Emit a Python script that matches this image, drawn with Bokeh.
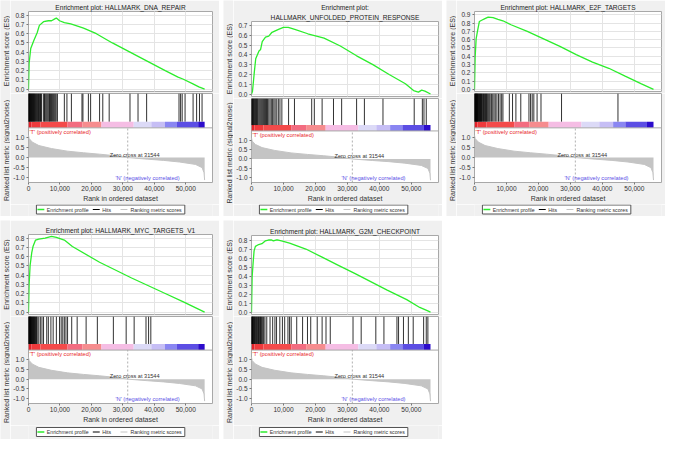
from math import pi
from bokeh.plotting import figure
from bokeh.layouts import column, row
from bokeh.core.properties import value
from bokeh.models import (Range1d, SingleIntervalTicker, FixedTicker, NumeralTickFormatter,
                          Grid, Label, Span, Title)
from bokeh.embed import file_html
from bokeh.resources import INLINE

FONT = "Liberation Sans"

# ---------------- data ----------------
N_GENES = 56000
X_END = 58500
ZERO_CROSS = 31544

METRIC_RANK = [0, 200, 1200, 3300, 7300, 12400, 17500, 22600, 27700, 31544, 37900, 43000,
               48000, 53100, 55200, 55800, 56000]
METRIC_VAL = [1.12, 0.95, 0.77, 0.6, 0.45, 0.32, 0.24, 0.17, 0.09, 0.0, -0.08, -0.14,
              -0.22, -0.34, -0.5, -0.75, -1.12]
METRIC_TICKS = [-1.0, -0.5, 0.0, 0.5, 1.0]

CB_EDGES = [0, 900, 3770, 12420, 17100, 23200, 33450, 39050, 43370, 47200, 53950, 56000]
CB_COLORS = ["#e2222a", "#ef3a3c", "#f44a4a", "#f36c80", "#f68c8e", "#f5bde4",
             "#dcdaf7", "#c6bef5", "#8a86f2", "#5c4ee4", "#2c0ccc"]

TITLES = [
    ["Enrichment plot: HALLMARK_DNA_REPAIR"],
    ["Enrichment plot:", "HALLMARK_UNFOLDED_PROTEIN_RESPONSE"],
    ["Enrichment plot: HALLMARK_E2F_TARGETS"],
    ["Enrichment plot: HALLMARK_MYC_TARGETS_V1"],
    ["Enrichment plot: HALLMARK_G2M_CHECKPOINT"],
]
ES_LABEL = "Enrichment score (ES)"
METRIC_LABEL = "Ranked list metric (signal2noise)"
X_LABEL = "Rank in ordered dataset"
LEGEND_LABELS = ["Enrichment profile", "Hits", "Ranking metric scores"]

ES_X_1 = [0, 200, 710, 1730, 2750, 3460, 4780, 6310, 7330, 8350, 8860, 9870, 11400, 13440,
          17510, 21580, 26670, 32270, 37870, 43470, 47540, 49070, 52120, 54160, 56000]
ES_Y_1 = [0, 0.28, 0.44, 0.53, 0.61, 0.69, 0.73, 0.74, 0.74, 0.76, 0.77, 0.74, 0.72, 0.705,
          0.66, 0.60, 0.50, 0.40, 0.30, 0.20, 0.13, 0.11, 0.06, 0.025, 0.0]
HITS_1 = [0, 100, 200, 300, 400, 500, 650, 800, 950, 1100, 1250, 1400, 1550, 1700, 1850, 2000,
          2200, 2400, 2600, 2800, 3000, 3200, 3400, 3600, 3800, 4000, 4200, 4800, 5100, 5300,
          5600, 5900, 6200, 6500, 6700, 7000, 7300, 7600, 7900, 8200, 8500, 8800, 9200,
          11400, 12220, 13640, 17000, 17310, 19040, 19750, 22600, 23620, 25650, 32270, 34820,
          37560, 47850, 48360, 48860, 49780, 52330, 53450, 54360, 55180]

ES_X_2 = [0, 300, 810, 1320, 2340, 2850, 3360, 4380, 5400, 6410, 7430, 8450, 9980, 11500,
          13540, 17610, 22700, 27790, 32880, 37970, 43060, 48150, 50700, 52220, 53240, 54260, 56000]
ES_Y_2 = [0, 0.025, 0.2, 0.36, 0.44, 0.455, 0.535, 0.58, 0.59, 0.63, 0.645, 0.66, 0.68, 0.68,
          0.66, 0.615, 0.57, 0.49, 0.39, 0.30, 0.20, 0.105, 0.035, 0.02, 0.04, 0.03, 0.0]
HITS_2 = [0, 150, 300, 450, 600, 800, 1000, 1200, 1400, 1600, 1800, 2000, 2300, 2600, 2900,
          3200, 3500, 3800, 4100, 4400, 4700, 5000, 5400, 5800, 6200, 6600, 7000, 7400, 7900,
          8400, 8900, 9500, 11600, 13440, 18830, 19650, 22090, 25650, 28200, 32880, 35320,
          41130, 50900, 53450, 53950, 54670]

ES_X_3 = [0, 200, 510, 920, 1530, 2240, 3260, 4280, 5810, 7340, 8870, 11420, 16520, 21620,
          26720, 31820, 36920, 42020, 47120, 52220, 56000]
ES_Y_3 = [0, 0.386, 0.61, 0.70, 0.82, 0.835, 0.855, 0.873, 0.865, 0.846, 0.828, 0.78, 0.70,
          0.61, 0.52, 0.42, 0.33, 0.255, 0.16, 0.067, 0.0]
HITS_3 = [0, 100, 200, 300, 400, 500, 600, 700, 800, 900, 1000, 1150, 1300, 1450, 1600, 1750,
          1900, 2050, 2200, 2400, 2600, 2800, 3000, 3200, 3400, 3600, 3800, 4000, 4300, 4600,
          4900, 5300, 5700, 6100, 6500, 7000, 7500, 8000, 8500, 8900, 10900, 11900, 12950,
          14480, 17030, 17540, 18050, 18560, 19580, 20800, 27230, 44880]

ES_X_4 = [0, 200, 510, 1020, 1430, 2240, 3260, 5290, 7330, 8860, 11400, 13950, 22600, 32780,
          42960, 49070, 56000]
ES_Y_4 = [0, 0.30, 0.505, 0.64, 0.71, 0.78, 0.79, 0.80, 0.82, 0.81, 0.78, 0.71, 0.54, 0.37,
          0.21, 0.115, 0.0]
HITS_4 = [0, 100, 200, 300, 400, 500, 600, 700, 800, 950, 1100, 1250, 1400, 1550, 1700, 1850,
          2000, 2200, 2400, 2600, 2750, 3260, 3770, 4280, 4780, 5800, 6310, 7120, 7840, 8860,
          9870, 10390, 10900, 11400, 11910, 12420, 13740, 15470, 18320, 21890, 26980, 31050,
          33590, 37360, 38180, 38890]

ES_X_5 = [0, 200, 510, 810, 1220, 2240, 3260, 4280, 5290, 6310, 6820, 7640, 8350, 9370, 11910,
          17000, 22090, 27180, 32270, 42450, 48560, 52630, 55690, 56000]
ES_Y_5 = [0, 0.39, 0.55, 0.68, 0.73, 0.75, 0.76, 0.79, 0.80, 0.80, 0.79, 0.80, 0.80, 0.79,
          0.765, 0.70, 0.61, 0.52, 0.43, 0.245, 0.14, 0.053, 0.007, 0.0]
HITS_5 = [0, 100, 200, 300, 400, 550, 700, 850, 1000, 1200, 1400, 1600, 1800, 2000, 2200, 2400,
          2600, 2800, 3000, 3200, 3500, 3800, 4200, 4780, 5800, 6620, 7330, 7840, 8860, 9670,
          10380, 11400, 11910, 12420, 14150, 15980, 17510, 18530, 20560, 22090, 23310, 24640,
          31760, 34310, 38890, 41430, 45500, 46010, 47540, 49070, 50590, 53850, 54670, 55180]

ES_TOPS = [0.84, 0.74, 0.94, 0.84, 0.85]

# ---------------- style / layout ----------------
PANEL_BG = "#f0f0f0"
FRAME_LINE = "#a8a8a8"
ES_COLOR = "#2ced2c"
METRIC_COLOR = "#c4c4c4"
HIT_COLOR = "black"
TEXT = "#333333"
LEGEND_COLORS = [ES_COLOR, HIT_COLOR, METRIC_COLOR]
LEGEND_WIDTHS = [1.5, 1.0, 1.0]
PW = 219
LW = 10            # strip holding the rotated y-axis titles
Y_LO, CB_Y0, CB_Y1, Y_HI = -1.24, 1.48, 1.79, 3.19
XAX_H = 21         # x axis block under the lower frame
# legend geometry in pixels, relative to the frame's left edge / strip top
LEG_BOX = (8, 158)
LEG_GLYPH_X0 = [9, 65, 93]
LEG_GLYPH_X1 = [16, 72, 100]
LEG_TEXT_X = [18.5, 74.5, 103]

# (es_height, es_top_border, low_frame_height, right_border, panel_height, legend_top)
SIZES = [
    (93, 10, 90, 7, 216, 0.5),
    (98, 21, 85, 4, 216, 0.5),
    (93, 10, 90, 4, 216, 0.5),
    (96, 14, 88, 7, 219, 2.0),
    (96, 15, 88, 4, 219, 2.0),
]


def style_yaxis(ax):
    ax.axis_line_color = None
    ax.major_tick_line_color = "#777777"
    ax.major_tick_out = 2
    ax.major_tick_in = 0
    ax.minor_tick_line_color = None
    ax.major_label_standoff = 2
    ax.major_label_text_font = FONT
    ax.major_label_text_font_size = "6.5px"
    ax.major_label_text_color = TEXT


def base_fig(w, h, xr, yr, **kw):
    f = figure(width=w, height=h, x_range=xr, y_range=yr, toolbar_location=None,
               output_backend="svg", **kw)
    f.border_fill_color = PANEL_BG
    f.background_fill_color = "white"
    f.outline_line_color = FRAME_LINE
    return f


def make_panel(titles, es_x, es_y, hits, es_top, sizes):
    es_h, es_tb, low_fh, rb, ph, leg_top = sizes
    mw = PW - LW
    fw = mw - 16 - rb
    low_h = low_fh + XAX_H
    leg_h = ph - es_h - low_h

    # ---- enrichment score plot ----
    p = base_fig(mw, es_h, Range1d(0, X_END), Range1d(-0.025, es_top),
                 x_axis_location=None, min_border_left=16, min_border_right=rb,
                 min_border_top=es_tb, min_border_bottom=2)
    for i, t in enumerate(reversed(titles)):
        p.add_layout(Title(text=t, align="center", text_font=FONT, text_font_size="6.6px",
                           text_font_style="normal", text_color="#222222",
                           standoff=2 if i == 0 else 0), "above")
    p.yaxis.ticker = SingleIntervalTicker(interval=0.1, num_minor_ticks=0)
    p.yaxis.formatter = NumeralTickFormatter(format="0.0")
    style_yaxis(p.yaxis[0])
    p.ygrid.grid_line_color = "#e4e4e4"
    p.add_layout(Grid(dimension=0, ticker=SingleIntervalTicker(interval=10000, num_minor_ticks=0),
                      grid_line_color="#e4e4e4"))
    p.line(es_x, es_y, line_color=ES_COLOR, line_width=1.3)

    # ---- hits + ranked metric plot ----
    q = base_fig(mw, low_h, Range1d(0, X_END), Range1d(Y_LO, Y_HI),
                 min_border_left=16, min_border_right=rb, min_border_top=0,
                 min_border_bottom=XAX_H)
    q.grid.grid_line_color = None
    q.yaxis.ticker = FixedTicker(ticks=METRIC_TICKS)
    q.yaxis.formatter = NumeralTickFormatter(format="0.0")
    style_yaxis(q.yaxis[0])
    q.xaxis.ticker = SingleIntervalTicker(interval=10000, num_minor_ticks=0)
    q.xaxis.formatter = NumeralTickFormatter(format="0,0")
    q.xaxis.axis_label = X_LABEL
    xa = q.xaxis[0]
    xa.axis_line_color = None
    xa.major_tick_line_color = "#777777"
    xa.major_tick_out = 2
    xa.major_tick_in = 0
    xa.minor_tick_line_color = None
    xa.major_label_standoff = 1
    xa.major_label_text_font = FONT
    xa.major_label_text_font_size = "6.6px"
    xa.major_label_text_color = TEXT
    xa.axis_label_text_font = FONT
    xa.axis_label_text_font_size = "7px"
    xa.axis_label_text_font_style = "normal"
    xa.axis_label_text_color = TEXT
    xa.axis_label_standoff = 1

    q.varea(x=METRIC_RANK, y1=0, y2=METRIC_VAL, fill_color=METRIC_COLOR)
    q.line(METRIC_RANK, METRIC_VAL, line_color=METRIC_COLOR, line_width=1)
    q.segment(x0=[ZERO_CROSS], y0=[Y_LO], x1=[ZERO_CROSS], y1=[CB_Y0],
              line_color="#9a9a9a", line_width=0.8, line_dash="2 2")
    q.quad(left=CB_EDGES[:-1], right=CB_EDGES[1:], bottom=CB_Y0, top=CB_Y1,
           fill_color=CB_COLORS, line_color=None)
    q.segment(x0=hits, y0=CB_Y1, x1=hits, y1=Y_HI, line_color=HIT_COLOR,
              line_width=0.9, line_alpha=0.9)
    q.add_layout(Span(location=CB_Y0, dimension="width", line_color=FRAME_LINE, line_width=1))
    q.add_layout(Label(x=0, y=1.27, x_offset=1, text="'T' (positively correlated)",
                       text_font=FONT, text_font_size="5.7px", text_color="#e8262a",
                       text_baseline="middle", text_align="left"))
    q.add_layout(Label(x=ZERO_CROSS, y=0.14, x_offset=7, text="Zero cross at " + str(ZERO_CROSS),
                       text_font=FONT, text_font_size="5.6px", text_color=TEXT,
                       text_baseline="middle", text_align="center"))
    q.add_layout(Label(x=N_GENES, y=-1.0, x_offset=-25, text="'N' (negatively correlated)",
                       text_font=FONT, text_font_size="5.7px", text_color="#5a4ee6",
                       text_baseline="middle", text_align="right"))

    # ---- legend strip (pixel coordinates, y downwards) ----
    g = base_fig(mw, leg_h, Range1d(0, fw), Range1d(leg_h, 0), x_axis_location=None,
                 y_axis_location=None, min_border_left=16, min_border_right=rb,
                 min_border_top=0, min_border_bottom=0)
    g.background_fill_color = PANEL_BG
    g.outline_line_color = None
    g.grid.visible = False
    mid = leg_top + 4.5
    g.quad(left=[LEG_BOX[0]], right=[LEG_BOX[1]], top=[leg_top], bottom=[leg_top + 9],
           fill_color="white", line_color="#555555", line_width=1)
    g.segment(x0=LEG_GLYPH_X0, x1=LEG_GLYPH_X1, y0=[mid] * 3, y1=[mid] * 3,
              line_color=LEGEND_COLORS, line_width=LEGEND_WIDTHS)
    g.text(x=LEG_TEXT_X, y=[mid] * 3, text=LEGEND_LABELS, text_baseline="middle",
           text_align="left", text_font_size=value("5.2px"), text_color=TEXT,
           text_font=value(FONT))

    # ---- rotated y-axis titles ----
    lab = base_fig(LW, ph, Range1d(0, LW), Range1d(ph, 0), x_axis_location=None,
                   y_axis_location=None, min_border=0)
    lab.background_fill_color = PANEL_BG
    lab.outline_line_color = None
    lab.grid.visible = False
    es_mid = es_tb + (es_h - 2 - es_tb) / 2
    met_mid = es_h + low_fh / 2 + 12
    lab.text(x=[6, 6], y=[es_mid, met_mid], text=[ES_LABEL, METRIC_LABEL], angle=pi / 2,
             text_align="center", text_baseline="middle", text_font_size=value("7px"),
             text_color=TEXT, text_font=value(FONT))

    return row(lab, column(p, q, g, spacing=0), spacing=0)


ES_XS = [ES_X_1, ES_X_2, ES_X_3, ES_X_4, ES_X_5]
ES_YS = [ES_Y_1, ES_Y_2, ES_Y_3, ES_Y_4, ES_Y_5]
HITS = [HITS_1, HITS_2, HITS_3, HITS_4, HITS_5]

panels = [make_panel(TITLES[i], ES_XS[i], ES_YS[i], HITS[i], ES_TOPS[i], SIZES[i])
          for i in range(5)]

top = row(panels[0], panels[1], panels[2], spacing=4)
bottom = row(panels[3], panels[4], spacing=4)
root = column(top, bottom, spacing=4)

open("out.html", "w").write(file_html(root, INLINE))
